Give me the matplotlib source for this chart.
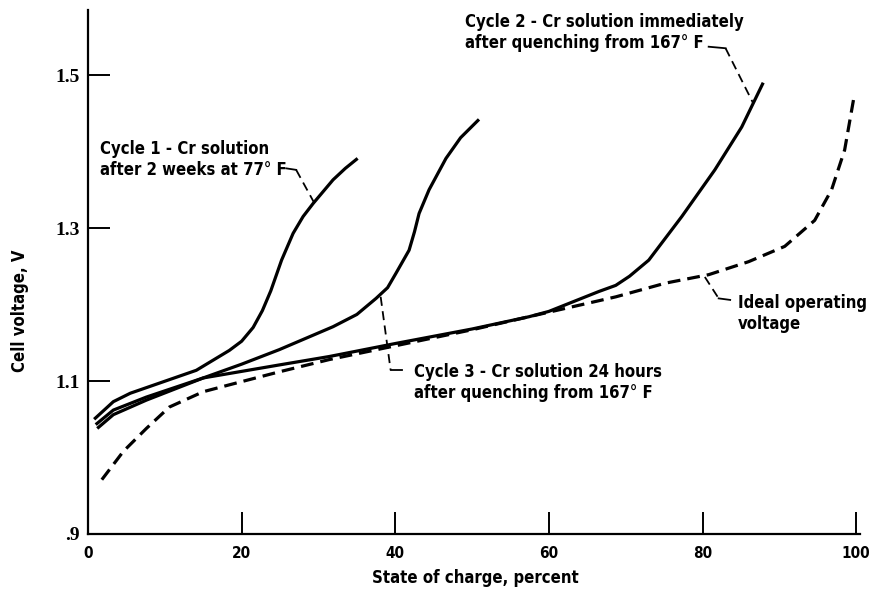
import matplotlib
matplotlib.use("Agg")
import matplotlib.pyplot as plt

plt.rcParams["font.family"] = ["DejaVu Sans"]
plt.rcParams["font.weight"] = "bold"
plt.rcParams["font.stretch"] = "condensed"

# values (state of charge %, cell voltage V)
cycle1_x = [0.8, 3.3, 5.5, 9.8, 14.1, 18.4, 20.0, 21.5, 22.7, 23.8, 25.2, 26.7, 28.0, 29.3, 31.9, 33.5, 35.1]
cycle1_y = [1.050, 1.073, 1.084, 1.099, 1.114, 1.140, 1.152, 1.170, 1.192, 1.218, 1.258, 1.293, 1.315, 1.332, 1.363, 1.378, 1.391]

cycle3_x = [1.0, 3.3, 7.6, 15.0, 20.0, 24.9, 31.9, 35.0, 37.5, 39.0, 40.1, 41.8, 42.5, 43.1, 44.4, 46.6, 48.5, 50.9]
cycle3_y = [1.043, 1.062, 1.079, 1.104, 1.122, 1.141, 1.171, 1.187, 1.208, 1.222, 1.241, 1.271, 1.295, 1.319, 1.350, 1.391, 1.418, 1.442]

cycle2_x = [1.2, 3.3, 7.6, 15.0, 24.9, 31.4, 40.0, 50.0, 57.4, 60.0, 66.5, 68.7, 70.5, 73.0, 77.3, 81.6, 85.1, 87.9]
cycle2_y = [1.038, 1.056, 1.075, 1.104, 1.121, 1.132, 1.149, 1.168, 1.184, 1.191, 1.217, 1.225, 1.237, 1.258, 1.315, 1.376, 1.432, 1.490]

ideal_x = [1.8, 4.6, 7.6, 10.6, 15.0, 18.4, 24.9, 31.4, 40.0, 50.0, 60.0, 68.7, 75.2, 80.8, 86.0, 90.7, 94.6, 96.8, 98.5, 99.8]
ideal_y = [0.971, 1.008, 1.038, 1.066, 1.086, 1.095, 1.112, 1.128, 1.146, 1.167, 1.190, 1.210, 1.228, 1.239, 1.256, 1.276, 1.310, 1.350, 1.402, 1.476]

x_ticks = [0, 20, 40, 60, 80, 100]
y_ticks = [0.9, 1.1, 1.3, 1.5]
y_tick_labels = [".9", "1.1", "1.3", "1.5"]

fig = plt.figure(figsize=(8.7, 5.96), dpi=100)
ax = fig.add_axes([88 / 870, 62 / 596, 772 / 870, 524 / 596])

ax.plot(cycle1_x, cycle1_y, color="black", lw=2.3, solid_capstyle="butt")
ax.plot(cycle3_x, cycle3_y, color="black", lw=2.3, solid_capstyle="butt")
ax.plot(cycle2_x, cycle2_y, color="black", lw=2.3, solid_capstyle="butt")
ax.plot(ideal_x, ideal_y, color="black", lw=2.3, dashes=(4, 2.2))

# leader lines
lead = dict(color="black", lw=1.3)
ax.plot([25.8, 27.1], [1.378, 1.376], **lead)
ax.plot([27.1, 29.5], [1.376, 1.332], dashes=(5, 3), **lead)
ax.plot([80.8, 83.0], [1.537, 1.535], **lead)
ax.plot([83.0, 86.6], [1.535, 1.463], dashes=(5, 3), **lead)
ax.plot([38.1, 39.4], [1.210, 1.114], dashes=(5, 3), **lead)
ax.plot([39.4, 40.9], [1.114, 1.114], **lead)
ax.plot([80.3, 82.1], [1.236, 1.208], dashes=(5, 3), **lead)
ax.plot([82.1, 83.6], [1.208, 1.206], **lead)

txt = dict(fontsize=12, ha="left", va="center", linespacing=1.2)
ax.text(1.6, 1.390, "Cycle 1 - Cr solution\nafter 2 weeks at 77° F", **txt)
ax.text(49.1, 1.556, "Cycle 2 - Cr solution immediately\nafter quenching from 167° F", **txt)
ax.text(42.5, 1.098, "Cycle 3 - Cr solution 24 hours\nafter quenching from 167° F", **txt)
ax.text(84.6, 1.188, "Ideal operating\nvoltage", **txt)

ax.set_xlim(0, 100.5)
ax.set_ylim(0.9, 1.585)
ax.spines["top"].set_visible(False)
ax.spines["right"].set_visible(False)
ax.spines["left"].set_linewidth(1.6)
ax.spines["bottom"].set_linewidth(1.6)
ax.set_xticks(x_ticks)
ax.set_xticklabels([str(t) for t in x_ticks], fontsize=11)
ax.set_yticks(y_ticks)
ax.set_yticklabels(y_tick_labels, fontfamily=["Liberation Serif"], fontsize=14, fontweight="bold")
ax.tick_params(axis="both", direction="in", length=16, width=1.4)
ax.tick_params(axis="x", pad=9)
ax.tick_params(axis="y", pad=6)

fig.text(20 / 870, 1 - 311 / 596, "Cell voltage, V", rotation=90, ha="center", va="center",
         fontsize=12)
fig.text(475 / 870, 1 - 578 / 596, "State of charge, percent", ha="center", va="center",
         fontsize=12)

fig.savefig("out.png", dpi=100)
